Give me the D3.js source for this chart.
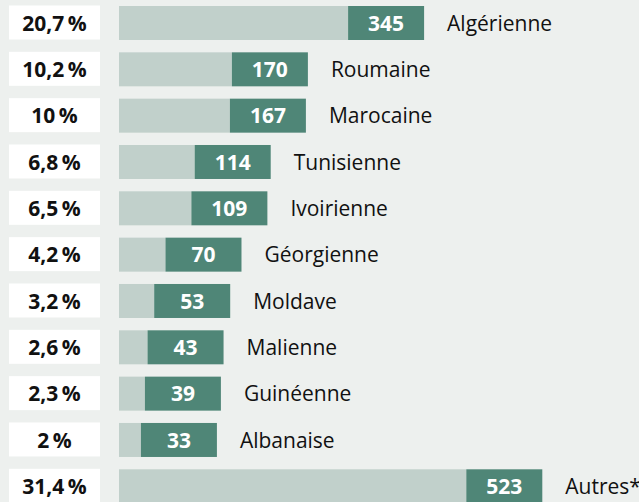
<!DOCTYPE html>
<html>
<head>
<meta charset="utf-8">
<script src="https://cdn.jsdelivr.net/npm/d3@7"></script>
<style>
  html, body { margin: 0; padding: 0; background: #edf0ee; }
  svg { display: block; }
  text { font-family: "Open Sans", "Noto Sans", sans-serif; }
</style>
</head>
<body>
<svg id="chart" width="639" height="502"></svg>
<script>
// Nationalities, counts and share of total
const nationalities = ["Algérienne", "Roumaine", "Marocaine", "Tunisienne", "Ivoirienne",
  "Géorgienne", "Moldave", "Malienne", "Guinéenne", "Albanaise", "Autres*"];
const counts = [345, 170, 167, 114, 109, 70, 53, 43, 39, 33, 523];
const shares = ["20,7\u2009%", "10,2\u2009%", "10\u2009%", "6,8\u2009%", "6,5\u2009%",
  "4,2\u2009%", "3,2\u2009%", "2,6\u2009%", "2,3\u2009%", "2\u2009%", "31,4\u2009%"];

const W = 639, H = 502;
const svg = d3.select("#chart");

svg.append("rect").attr("width", W).attr("height", H).attr("fill", "#edf0ee");

// one row every 46.33 px, bars 34 px tall
const rowPitch = 46.33, barH = 34, firstRowY = 6;
const n = nationalities.length;
const y = d3.scaleBand()
  .domain(nationalities)
  .range([firstRowY, firstRowY + rowPitch * (n - 1) + barH])
  .paddingInner(1 - barH / rowPitch)
  .paddingOuter(0);

// counts axis: bar body length, the value tag is appended after it
const x = d3.scaleLinear().domain([0, 523]).range([119, 466.3]);
const tagW = 76;
const fs = 21;

const rows = svg.selectAll("g.row")
  .data(nationalities.map((name, i) => ({ name, count: counts[i], share: shares[i] })))
  .join("g")
  .attr("class", "row")
  .attr("transform", d => `translate(0,${y(d.name)})`);

const mid = y.bandwidth() / 2;

// share box on the left
rows.append("rect")
  .attr("x", 9).attr("y", -0.5)
  .attr("width", 91).attr("height", y.bandwidth())
  .attr("fill", "#ffffff");

rows.append("text")
  .attr("x", 54.5).attr("y", mid)
  .attr("dy", "0.36em")
  .attr("text-anchor", "middle")
  .attr("font-size", fs).attr("font-weight", 700)
  .attr("fill", "#111")
  .text(d => d.share);

// light bar body
rows.append("rect")
  .attr("x", x(0)).attr("y", 0)
  .attr("width", d => x(d.count) - x(0)).attr("height", y.bandwidth())
  .attr("fill", "#c1d0cb");

// dark value tag
rows.append("rect")
  .attr("x", d => x(d.count)).attr("y", 0)
  .attr("width", tagW).attr("height", y.bandwidth())
  .attr("fill", "#4f8677");

rows.append("text")
  .attr("x", d => x(d.count) + tagW / 2).attr("y", mid)
  .attr("dy", "0.36em")
  .attr("text-anchor", "middle")
  .attr("font-size", fs).attr("font-weight", 700)
  .attr("fill", "#ffffff")
  .text(d => d.count);

// nationality name
rows.append("text")
  .attr("x", d => x(d.count) + tagW + 23).attr("y", mid)
  .attr("dy", "0.36em")
  .attr("font-size", fs)
  .attr("fill", "#111")
  .text(d => d.name);
</script>
</body>
</html>
